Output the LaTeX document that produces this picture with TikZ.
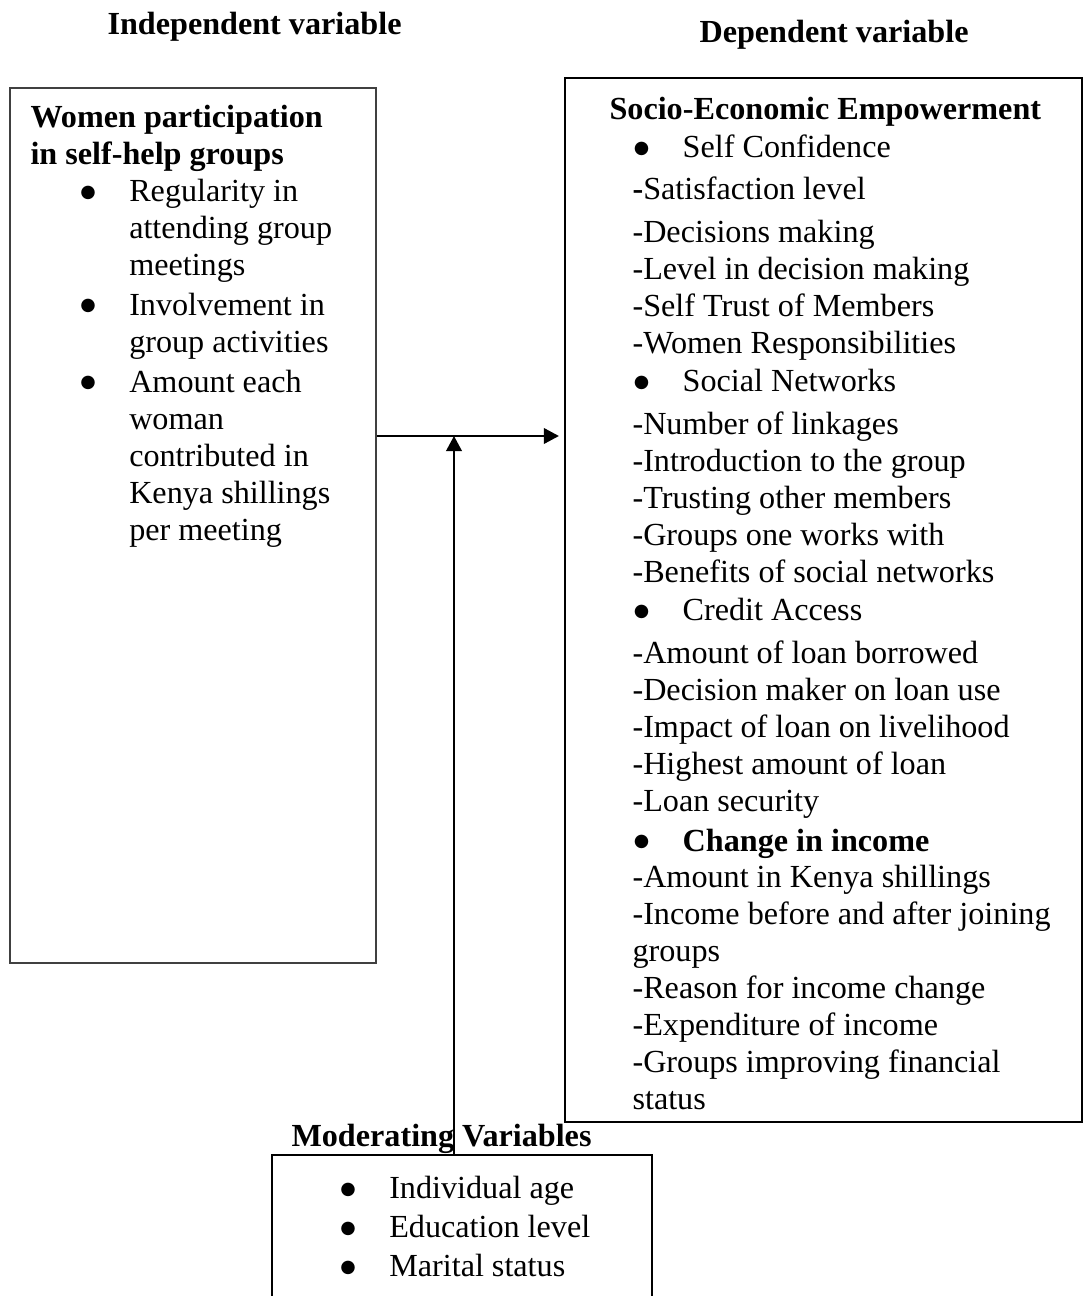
\documentclass[tikz,border=0pt]{standalone}
\usepackage{fontspec}
\setmainfont{Liberation Serif}
\newfontfamily\symbolFont{DejaVu Sans}
\usepackage{tikz}
\usetikzlibrary{arrows.meta, positioning}
\tikzstyle{varBox} = [rectangle, draw=black, line width=0.7pt, inner sep=0pt]
\tikzstyle{listText} = [anchor=north west, inner sep=0pt, align=left, font=\fontsize{12}{13.8}\selectfont]
\tikzstyle{headText} = [anchor=north west, inner sep=0pt, align=left, font=\fontsize{12}{13.8}\selectfont\bfseries]
\tikzstyle{arrowLine} = [line width=0.75pt, -{Triangle[length=5.6pt, width=5.8pt]}]
\newcommand{\bigBullet}{\raisebox{1.7pt}{\symbolFont\fontsize{6.6}{6.6}\selectfont ●}}
\newcommand{\bulItem}[1]{\makebox[17.8pt][l]{\hspace*{-0.4pt}\bigBullet}#1}
\newcommand{\itemIndent}{\hspace*{17.8pt}}

\begin{document}
\begin{tikzpicture}[x=0.373pt, y=-0.373pt]
    \useasboundingbox (0,0) rectangle (1084,1296);
    % boxes
    \node (iv) [varBox, draw=black!75, line width=0.6pt, minimum width=136.5pt, minimum height=326.4pt] at (193,525.5) {};
    \node (dv) [varBox, line width=0.8pt, minimum width=192.8pt, minimum height=389.4pt] at (823.5,600) {};
    \node (mv) [varBox, line width=0.8pt, minimum width=141.7pt, minimum height=56pt] at (462,1230) {};
    % titles
    \node (ivTitle) [headText] at (107,12) {Independent variable};
    \node (dvTitle) [headText] at (699,20) {Dependent variable};
    % independent variable
    \node (ivHead) [headText] at (30,104.5) {Women participation\\in self-help groups};
    \node (ivList) [listText] at (81,179) {%
        \bulItem{Regularity in}\\
        \itemIndent attending group\\
        \itemIndent meetings\\[1pt]
        \bulItem{Involvement in}\\
        \itemIndent group activities\\[1pt]
        \bulItem{Amount each}\\
        \itemIndent woman\\
        \itemIndent contributed in\\
        \itemIndent Kenya shillings\\
        \itemIndent per meeting};
    % dependent variable
    \node (dvHead) [headText] at (609,97) {Socio-Economic Empowerment};
    \node (dvList) [listText] at (632,134.5) {%
        \hspace*{0.9pt}\bulItem{Self Confidence}\\[1.9pt]
        \textbf{-}Satisfaction level\\[2.2pt]
        -Decisions making\\
        -Level in decision making\\
        -Self Trust of Members\\
        -Women Responsibilities\\[0.4pt]
        \hspace*{0.9pt}\bulItem{Social Networks}\\[2.2pt]
        -Number of linkages\\
        -Introduction to the group\\
        -Trusting other members\\
        -Groups one works with\\
        -Benefits of social networks\\[0.4pt]
        \hspace*{0.9pt}\bulItem{Credit Access}\\[2.2pt]
        -Amount of loan borrowed\\
        -Decision maker on loan use\\
        -Impact of loan on livelihood\\
        -Highest amount of loan\\
        -Loan security\\[1.1pt]
        \hspace*{0.9pt}\bulItem{\textbf{Change in income}}\\[-0.4pt]
        -Amount in Kenya shillings\\
        -Income before and after joining\\
        groups\\
        -Reason for income change\\
        -Expenditure of income\\
        -Groups improving financial\\
        status};
    % moderating variables
    \node (mvHead) [headText] at (291,1124) {Moderating Variables};
    \node (mvList) [listText, font=\fontsize{12}{14.5}\selectfont] at (341,1176) {%
        \bulItem{Individual age}\\
        \bulItem{Education level}\\
        \bulItem{Marital status}};
    % connectors
    \coordinate (junc) at (454,436);
    \draw [arrowLine] (iv.east |- junc) -- ([xshift=-1.9pt]dv.west |- junc);
    \draw [arrowLine] (mv.north -| junc) -- (junc);
\end{tikzpicture}
\end{document}
